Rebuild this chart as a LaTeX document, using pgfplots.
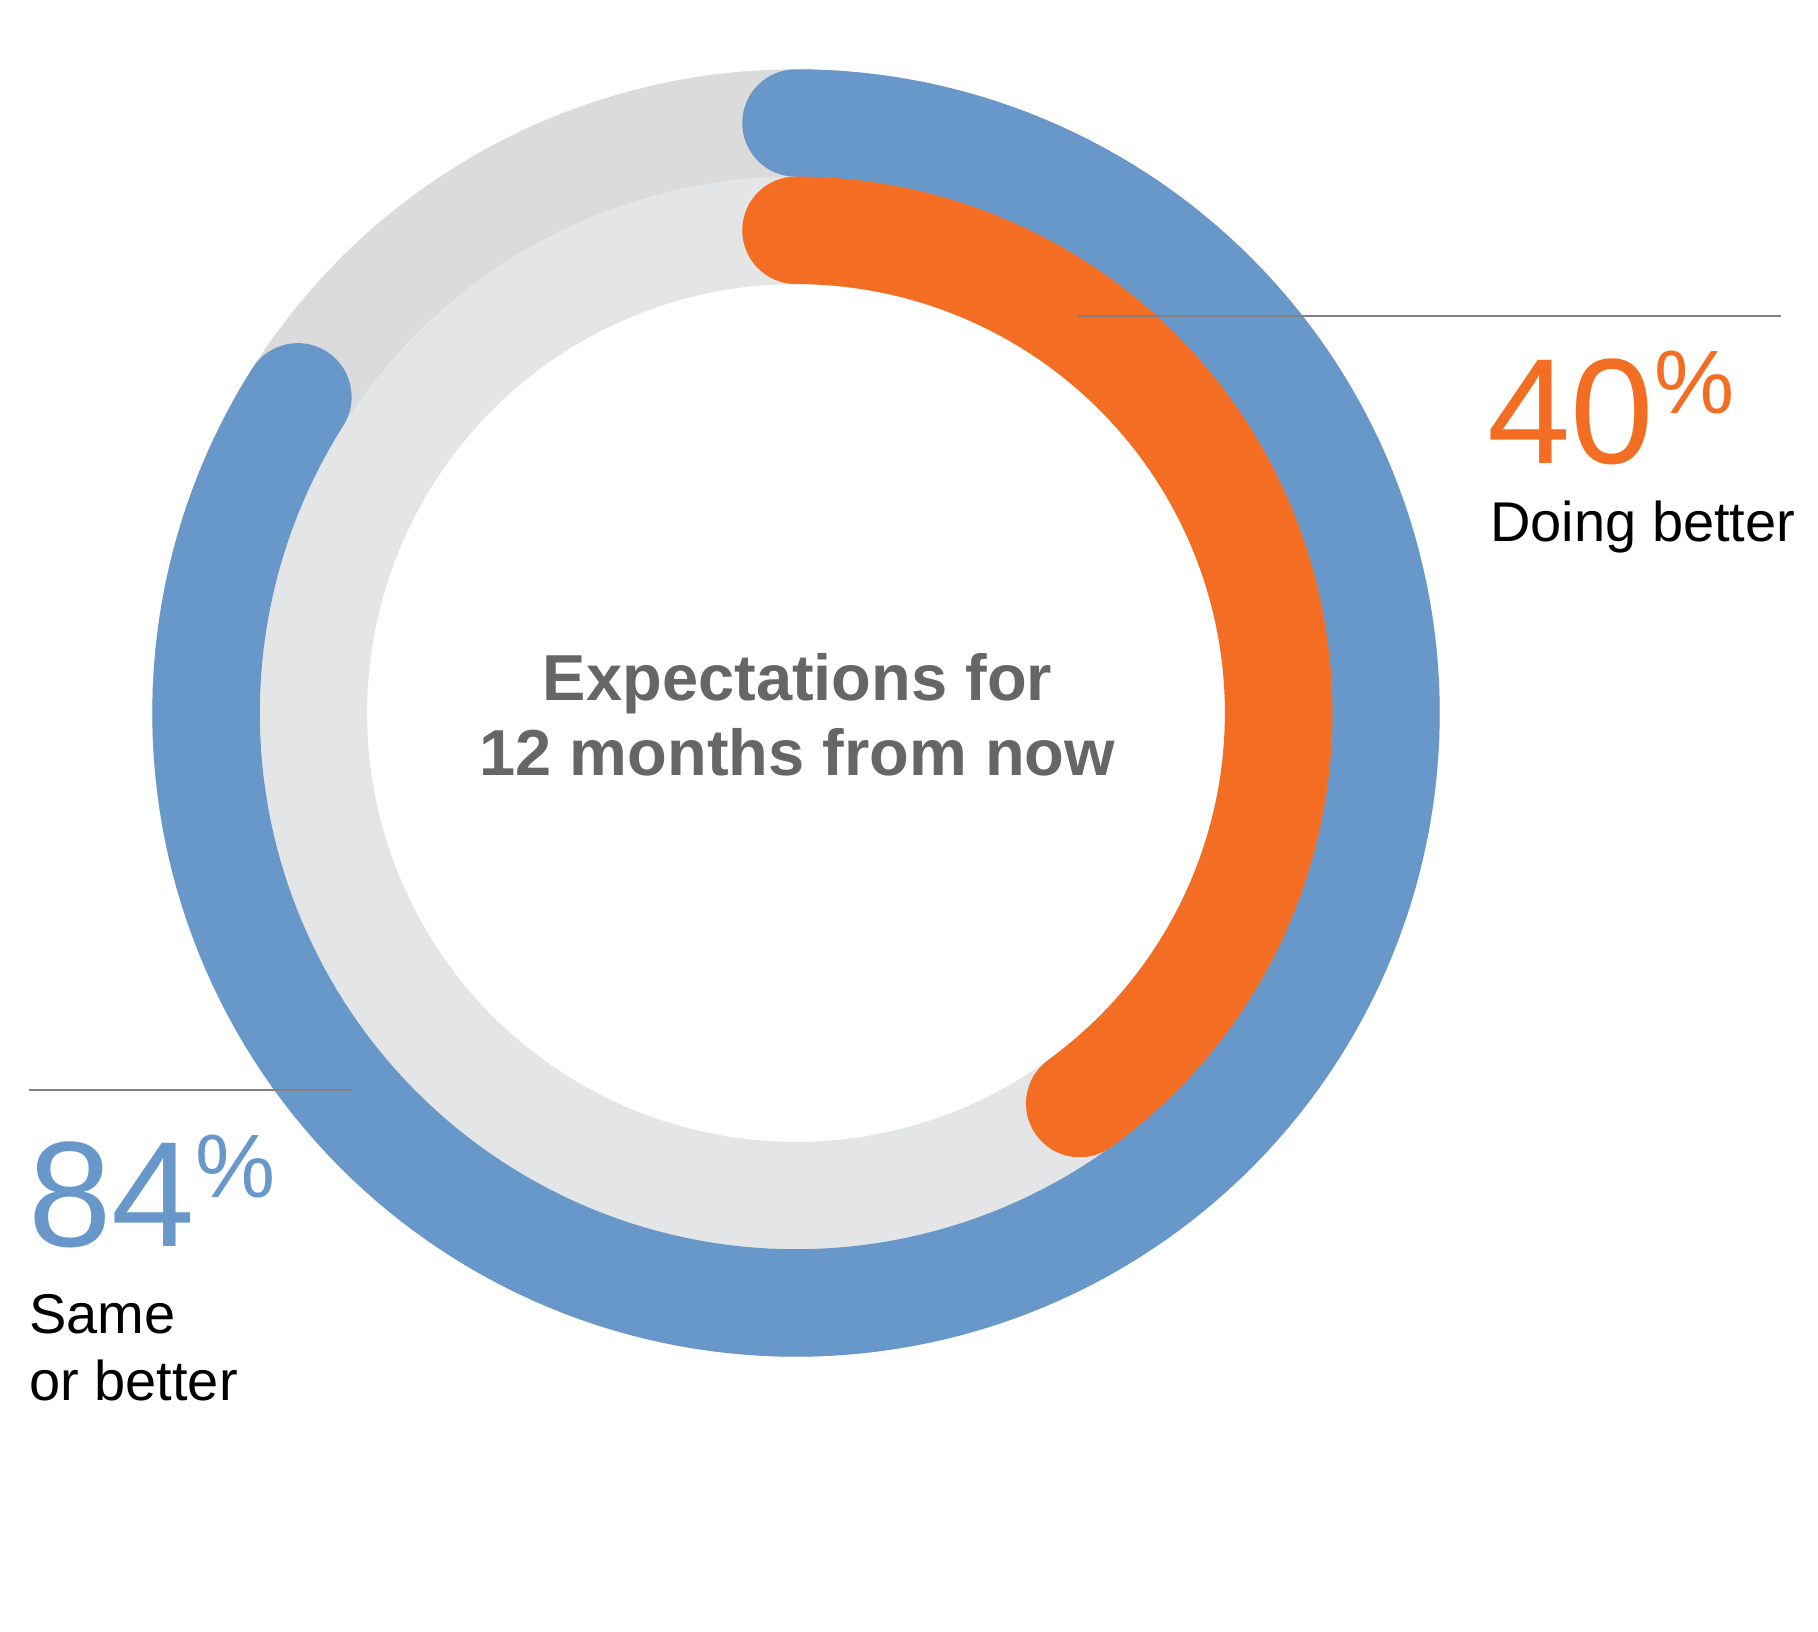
\documentclass[border=0pt]{standalone}
\usepackage{pgfplots}
\pgfplotsset{compat=1.18}
\usepackage{fontspec}
\setmainfont{Liberation Sans}
\definecolor{ringblue}{HTML}{6798C9}
\definecolor{ringorange}{HTML}{F36E23}
\definecolor{trackouter}{HTML}{DBDBDB}
\definecolor{trackinner}{HTML}{E4E5E7}
\definecolor{centergray}{HTML}{666666}
\definecolor{rulegray}{HTML}{808080}
% data (percent of respondents)
\def\SameOrBetter{84}
\def\DoingBetter{40}
\begin{document}
\begin{tikzpicture}
\begin{axis}[
  width=1818pt, height=1631pt, scale only axis,
  xmin=0, xmax=1818, ymin=0, ymax=1631, y dir=reverse,
  hide axis, clip=false,
]
% background tracks (100%)
\addplot[trackouter, mark=none, line width=107.5pt, line join=round, domain=0:100, samples=241]
  ({796+590*sin(3.6*x)}, {713-590*cos(3.6*x)});
\addplot[trackinner, mark=none, line width=107.5pt, line join=round, domain=0:100, samples=241]
  ({796+482.7*sin(3.6*x)}, {713-482.7*cos(3.6*x)});
% value rings
\addplot[ringblue, mark=none, line width=107.5pt, line cap=round, line join=round, domain=0:\SameOrBetter, samples=201]
  ({796+590*sin(3.6*x)}, {713-590*cos(3.6*x)});
\addplot[ringorange, mark=none, line width=107.5pt, line cap=round, line join=round, domain=0:\DoingBetter, samples=121]
  ({796+482.7*sin(3.6*x)}, {713-482.7*cos(3.6*x)});
% leader lines
\draw[rulegray, line width=2pt] (axis cs:1078,315.7) -- (axis cs:1781,315.7);
\draw[rulegray, line width=2pt] (axis cs:29,1089.5) -- (axis cs:351,1089.5);
% labels
\node[anchor=base west, inner sep=0, text=ringorange, font=\fontsize{150}{150}\selectfont] at (axis cs:1487,463.3) {40};
\node[anchor=base west, inner sep=0, text=ringorange, font=\fontsize{90}{90}\selectfont] at (axis cs:1654,413) {\%};
\node[anchor=base west, inner sep=0, font=\fontsize{56}{56}\selectfont] at (axis cs:1490,541.7) {Doing better};
\node[anchor=base west, inner sep=0, text=ringblue, font=\fontsize{150}{150}\selectfont] at (axis cs:28,1246.7) {84};
\node[anchor=base west, inner sep=0, text=ringblue, font=\fontsize{90}{90}\selectfont] at (axis cs:195,1197) {\%};
\node[anchor=base west, inner sep=0, font=\fontsize{56}{56}\selectfont] at (axis cs:29,1333.3) {Same};
\node[anchor=base west, inner sep=0, font=\fontsize{56}{56}\selectfont] at (axis cs:29,1400) {or better};
\node[anchor=base, inner sep=0, text=centergray, font=\bfseries\fontsize{65}{65}\selectfont] at (axis cs:797.5,700) {Expectations for};
\node[anchor=base, inner sep=0, text=centergray, font=\bfseries\fontsize{65}{65}\selectfont] at (axis cs:797.5,775) {12 months from now};
\end{axis}
\pgfresetboundingbox
\path[use as bounding box] (current axis.south west) rectangle (current axis.north east);
\end{tikzpicture}
\end{document}
